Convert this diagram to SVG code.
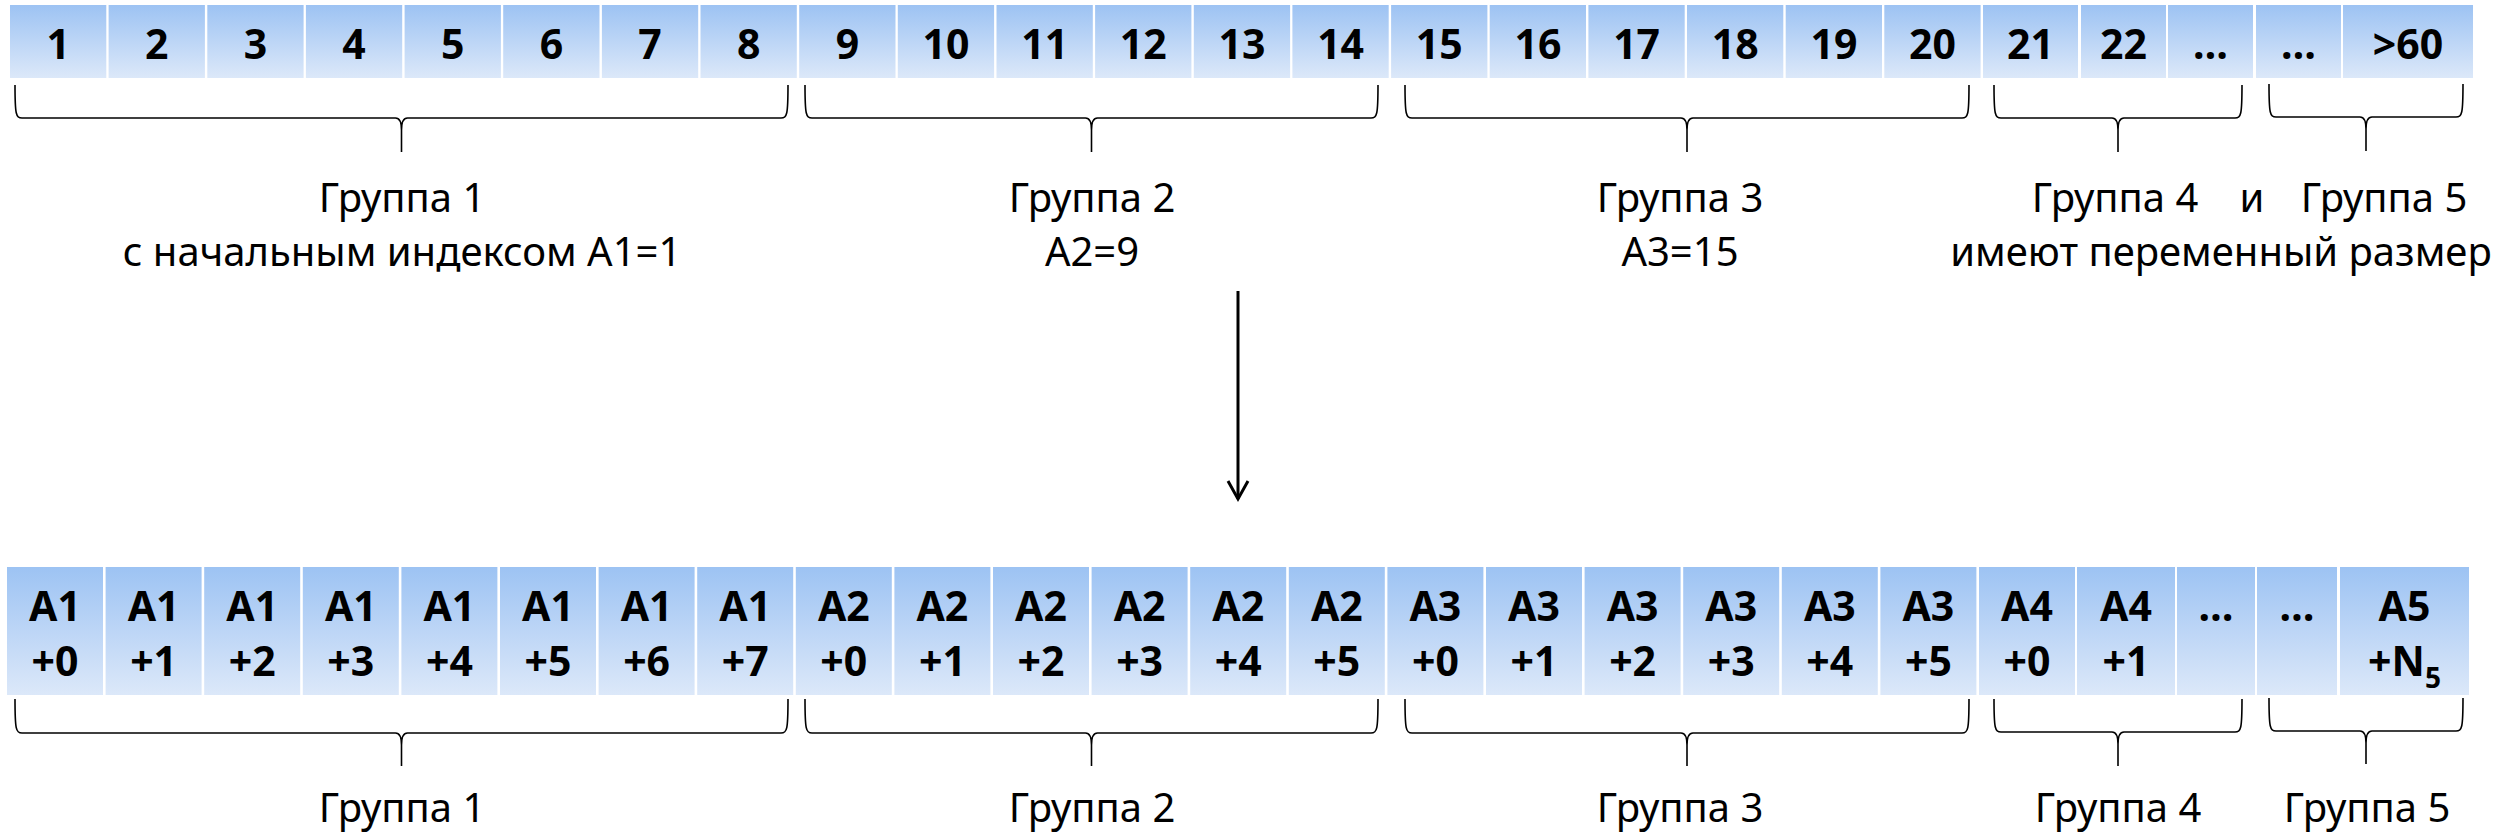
<svg xmlns="http://www.w3.org/2000/svg" width="2502" height="836" viewBox="0 0 2502 836">
<style>
.c{fill:url(#g)}
.n{font-family:"Noto Sans","DejaVu Sans",sans-serif;font-weight:700;font-size:41px;text-anchor:middle;fill:#000}
.l{font-family:"Noto Sans","DejaVu Sans",sans-serif;font-size:40px;text-anchor:middle;fill:#000}
.b{fill:none;stroke:#000;stroke-width:1.6}
.a{fill:none;stroke:#000;stroke-width:3}
</style>
<defs>
<linearGradient id="g" x1="0" y1="0" x2="0" y2="1">
<stop offset="0" stop-color="#9dc3f3"/>
<stop offset="1" stop-color="#dce8f9"/>
</linearGradient>
<marker id="arr" markerUnits="userSpaceOnUse" markerWidth="26" markerHeight="26" viewBox="0 0 26 26" refX="22" refY="13" orient="auto">
<path d="M4,3 L22,13 L4,23" fill="none" stroke="#000" stroke-width="3"/>
</marker>
</defs>
<rect width="2502" height="836" fill="#fff"/>

<g id="top-row">
<g id="t1"><rect class="c" x="10" y="5" width="96.3" height="73"/><text class="n" x="58.2" y="59">1</text></g>
<g id="t2"><rect class="c" x="108.6" y="5" width="96.3" height="73"/><text class="n" x="156.8" y="59">2</text></g>
<g id="t3"><rect class="c" x="207.3" y="5" width="96.3" height="73"/><text class="n" x="255.5" y="59">3</text></g>
<g id="t4"><rect class="c" x="305.9" y="5" width="96.3" height="73"/><text class="n" x="354.1" y="59">4</text></g>
<g id="t5"><rect class="c" x="404.6" y="5" width="96.3" height="73"/><text class="n" x="452.8" y="59">5</text></g>
<g id="t6"><rect class="c" x="503.2" y="5" width="96.3" height="73"/><text class="n" x="551.4" y="59">6</text></g>
<g id="t7"><rect class="c" x="601.9" y="5" width="96.3" height="73"/><text class="n" x="650.1" y="59">7</text></g>
<g id="t8"><rect class="c" x="700.5" y="5" width="96.3" height="73"/><text class="n" x="748.7" y="59">8</text></g>
<g id="t9"><rect class="c" x="799.2" y="5" width="96.3" height="73"/><text class="n" x="847.4" y="59">9</text></g>
<g id="t10"><rect class="c" x="897.8" y="5" width="96.3" height="73"/><text class="n" x="946" y="59">10</text></g>
<g id="t11"><rect class="c" x="996.5" y="5" width="96.3" height="73"/><text class="n" x="1044.7" y="59">11</text></g>
<g id="t12"><rect class="c" x="1095.1" y="5" width="96.3" height="73"/><text class="n" x="1143.3" y="59">12</text></g>
<g id="t13"><rect class="c" x="1193.8" y="5" width="96.3" height="73"/><text class="n" x="1242" y="59">13</text></g>
<g id="t14"><rect class="c" x="1292.4" y="5" width="96.3" height="73"/><text class="n" x="1340.6" y="59">14</text></g>
<g id="t15"><rect class="c" x="1391.1" y="5" width="96.3" height="73"/><text class="n" x="1439.3" y="59">15</text></g>
<g id="t16"><rect class="c" x="1489.7" y="5" width="96.3" height="73"/><text class="n" x="1537.9" y="59">16</text></g>
<g id="t17"><rect class="c" x="1588.4" y="5" width="96.3" height="73"/><text class="n" x="1636.6" y="59">17</text></g>
<g id="t18"><rect class="c" x="1687" y="5" width="96.3" height="73"/><text class="n" x="1735.2" y="59">18</text></g>
<g id="t19"><rect class="c" x="1785.7" y="5" width="96.3" height="73"/><text class="n" x="1833.9" y="59">19</text></g>
<g id="t20"><rect class="c" x="1884.3" y="5" width="96.3" height="73"/><text class="n" x="1932.5" y="59">20</text></g>
<g id="t21"><rect class="c" x="1983" y="5" width="95" height="73"/><text class="n" x="2030.5" y="59">21</text></g>
<g id="t22"><rect class="c" x="2081" y="5" width="85" height="73"/><text class="n" x="2123.5" y="59">22</text></g>
<g id="t23"><rect class="c" x="2168" y="5" width="85" height="73"/><text class="n" x="2210.5" y="59">…</text></g>
<g id="t24"><rect class="c" x="2256" y="5" width="85" height="73"/><text class="n" x="2298.5" y="59">…</text></g>
<g id="t25"><rect class="c" x="2343" y="5" width="130" height="73"/><text class="n" x="2408" y="59">&gt;60</text></g>
</g>

<g id="top-labels">
<g id="tl1"><text class="l" x="402" y="212">Группа 1</text><text class="l" x="402" y="266">с начальным индексом А1=1</text></g>
<g id="tl2"><text class="l" x="1092" y="212">Группа 2</text><text class="l" x="1092" y="266">А2=9</text></g>
<g id="tl3"><text class="l" x="1680" y="212">Группа 3</text><text class="l" x="1680" y="266">А3=15</text></g>
<g id="tl45"><text class="l" x="2115" y="212">Группа 4</text><text class="l" x="2252" y="212">и</text><text class="l" x="2384" y="212">Группа 5</text><text class="l" x="2221" y="266">имеют переменный размер</text></g>
</g>

<g id="bottom-row">
<g id="b1"><rect class="c" x="7" y="567" width="96" height="128"/><text class="n" x="55" y="621">A1</text><text class="n" x="55" y="676">+0</text></g>
<g id="b2"><rect class="c" x="105.6" y="567" width="96" height="128"/><text class="n" x="153.6" y="621">A1</text><text class="n" x="153.6" y="676">+1</text></g>
<g id="b3"><rect class="c" x="204.2" y="567" width="96" height="128"/><text class="n" x="252.2" y="621">A1</text><text class="n" x="252.2" y="676">+2</text></g>
<g id="b4"><rect class="c" x="302.8" y="567" width="96" height="128"/><text class="n" x="350.8" y="621">A1</text><text class="n" x="350.8" y="676">+3</text></g>
<g id="b5"><rect class="c" x="401.4" y="567" width="96" height="128"/><text class="n" x="449.4" y="621">A1</text><text class="n" x="449.4" y="676">+4</text></g>
<g id="b6"><rect class="c" x="500" y="567" width="96" height="128"/><text class="n" x="548" y="621">A1</text><text class="n" x="548" y="676">+5</text></g>
<g id="b7"><rect class="c" x="598.6" y="567" width="96" height="128"/><text class="n" x="646.6" y="621">A1</text><text class="n" x="646.6" y="676">+6</text></g>
<g id="b8"><rect class="c" x="697.2" y="567" width="96" height="128"/><text class="n" x="745.2" y="621">A1</text><text class="n" x="745.2" y="676">+7</text></g>
<g id="b9"><rect class="c" x="795.8" y="567" width="96" height="128"/><text class="n" x="843.8" y="621">A2</text><text class="n" x="843.8" y="676">+0</text></g>
<g id="b10"><rect class="c" x="894.4" y="567" width="96" height="128"/><text class="n" x="942.4" y="621">A2</text><text class="n" x="942.4" y="676">+1</text></g>
<g id="b11"><rect class="c" x="993" y="567" width="96" height="128"/><text class="n" x="1041" y="621">A2</text><text class="n" x="1041" y="676">+2</text></g>
<g id="b12"><rect class="c" x="1091.6" y="567" width="96" height="128"/><text class="n" x="1139.6" y="621">A2</text><text class="n" x="1139.6" y="676">+3</text></g>
<g id="b13"><rect class="c" x="1190.2" y="567" width="96" height="128"/><text class="n" x="1238.2" y="621">A2</text><text class="n" x="1238.2" y="676">+4</text></g>
<g id="b14"><rect class="c" x="1288.8" y="567" width="96" height="128"/><text class="n" x="1336.8" y="621">A2</text><text class="n" x="1336.8" y="676">+5</text></g>
<g id="b15"><rect class="c" x="1387.4" y="567" width="96" height="128"/><text class="n" x="1435.4" y="621">A3</text><text class="n" x="1435.4" y="676">+0</text></g>
<g id="b16"><rect class="c" x="1486" y="567" width="96" height="128"/><text class="n" x="1534" y="621">A3</text><text class="n" x="1534" y="676">+1</text></g>
<g id="b17"><rect class="c" x="1584.6" y="567" width="96" height="128"/><text class="n" x="1632.6" y="621">A3</text><text class="n" x="1632.6" y="676">+2</text></g>
<g id="b18"><rect class="c" x="1683.2" y="567" width="96" height="128"/><text class="n" x="1731.2" y="621">A3</text><text class="n" x="1731.2" y="676">+3</text></g>
<g id="b19"><rect class="c" x="1781.8" y="567" width="96" height="128"/><text class="n" x="1829.8" y="621">A3</text><text class="n" x="1829.8" y="676">+4</text></g>
<g id="b20"><rect class="c" x="1880.4" y="567" width="96" height="128"/><text class="n" x="1928.4" y="621">A3</text><text class="n" x="1928.4" y="676">+5</text></g>
<g id="b21"><rect class="c" x="1979" y="567" width="96" height="128"/><text class="n" x="2027" y="621">A4</text><text class="n" x="2027" y="676">+0</text></g>
<g id="b22"><rect class="c" x="2077" y="567" width="98" height="128"/><text class="n" x="2126" y="621">A4</text><text class="n" x="2126" y="676">+1</text></g>
<g id="b23"><rect class="c" x="2177" y="567" width="78" height="128"/><text class="n" x="2216" y="621">…</text></g>
<g id="b24"><rect class="c" x="2257" y="567" width="80" height="128"/><text class="n" x="2297" y="621">…</text></g>
<g id="b25"><rect class="c" x="2340" y="567" width="129" height="128"/><text class="n" x="2404.5" y="621">A5</text><text class="n" x="2404.5" y="676">+N<tspan font-size="28" dy="12">5</tspan></text></g>
</g>

<g id="bottom-labels">
<text id="bl1" class="l" x="402" y="822">Группа 1</text>
<text id="bl2" class="l" x="1092" y="822">Группа 2</text>
<text id="bl3" class="l" x="1680" y="822">Группа 3</text>
<text id="bl4" class="l" x="2118" y="822">Группа 4</text>
<text id="bl5" class="l" x="2367" y="822">Группа 5</text>
</g>

<g id="connectors">
<path class="b" d="M15,85 C15,115 16,118 22,118 L395.5,118 C399.5,118 401.5,121 401.5,130 L401.5,152 L401.5,130 C401.5,121 403.5,118 407.5,118 L781,118 C787,118 788,115 788,85"/>
<path class="b" d="M805,85 C805,115 806,118 812,118 L1085.5,118 C1089.5,118 1091.5,121 1091.5,130 L1091.5,152 L1091.5,130 C1091.5,121 1093.5,118 1097.5,118 L1371,118 C1377,118 1378,115 1378,85"/>
<path class="b" d="M1405,85 C1405,115 1406,118 1412,118 L1681,118 C1685,118 1687,121 1687,130 L1687,152 L1687,130 C1687,121 1689,118 1693,118 L1962,118 C1968,118 1969,115 1969,85"/>
<path class="b" d="M1994,85 C1994,115 1995,118 2001,118 L2112,118 C2116,118 2118,121 2118,130 L2118,152 L2118,130 C2118,121 2120,118 2124,118 L2235,118 C2241,118 2242,115 2242,85"/>
<path class="b" d="M2269,84 C2269,114 2270,117 2276,117 L2360,117 C2364,117 2366,120 2366,129 L2366,151 L2366,129 C2366,120 2368,117 2372,117 L2456,117 C2462,117 2463,114 2463,84"/>
<path class="b" d="M15,699 C15,730 16,733 22,733 L395.5,733 C399.5,733 401.5,736 401.5,745 L401.5,766 L401.5,745 C401.5,736 403.5,733 407.5,733 L781,733 C787,733 788,730 788,699"/>
<path class="b" d="M805,699 C805,730 806,733 812,733 L1085.5,733 C1089.5,733 1091.5,736 1091.5,745 L1091.5,766 L1091.5,745 C1091.5,736 1093.5,733 1097.5,733 L1371,733 C1377,733 1378,730 1378,699"/>
<path class="b" d="M1405,699 C1405,730 1406,733 1412,733 L1681,733 C1685,733 1687,736 1687,745 L1687,766 L1687,745 C1687,736 1689,733 1693,733 L1962,733 C1968,733 1969,730 1969,699"/>
<path class="b" d="M1994,699 C1994,729 1995,732 2001,732 L2112,732 C2116,732 2118,735 2118,744 L2118,766 L2118,744 C2118,735 2120,732 2124,732 L2235,732 C2241,732 2242,729 2242,699"/>
<path class="b" d="M2269,698 C2269,728 2270,731 2276,731 L2360,731 C2364,731 2366,734 2366,743 L2366,764 L2366,743 C2366,734 2368,731 2372,731 L2456,731 C2462,731 2463,728 2463,698"/>
<line class="a" x1="1238" y1="291" x2="1238" y2="499" marker-end="url(#arr)"/>
</g>
</svg>
